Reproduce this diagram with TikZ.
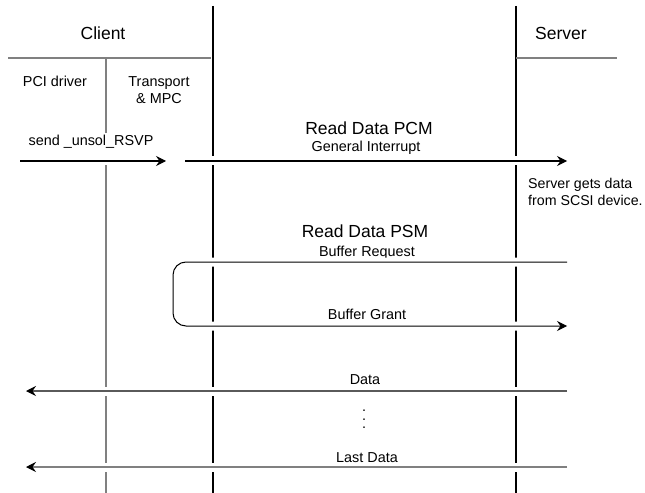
\documentclass[tikz,border=0pt]{standalone}
\usepackage{fontspec}
\setmainfont{Liberation Sans}
\usetikzlibrary{arrows.meta}
\definecolor{lgrey}{HTML}{808080}
\definecolor{dgrey}{HTML}{5A5A5A}
\begin{document}
\begin{tikzpicture}[x=1bp,y=-1bp,
  big/.style={font=\fontsize{17.5bp}{21bp}\selectfont, inner sep=0pt, anchor=base},
  small/.style={font=\fontsize{14.4bp}{17bp}\selectfont, inner sep=0pt, anchor=base},
  note/.style={font=\fontsize{14.2bp}{17bp}\selectfont, inner sep=0pt, anchor=base west, align=left},
  life/.style={line width=2bp, black},
  sub/.style={line width=1.3bp, lgrey},
  tip/.style={-{Stealth[length=10bp,width=10bp,inset=3.5bp,color=black,fill=black]}},
  halo/.style={preaction={draw=white,line width=9bp,-}},
  msg/.style={line width=1.1bp, tip, halo},
]
\useasboundingbox (0,0) rectangle (645,493);
% lifeline coordinates
\coordinate (cTop) at (213,6);   \coordinate (cBot) at (213,493);
\coordinate (sTop) at (516,6);   \coordinate (sBot) at (516,493);
\coordinate (pTop) at (106,58);  \coordinate (pBot) at (106,493);
\coordinate (chL) at (8,58);     \coordinate (chR) at (211,58);
\coordinate (shL) at (516,58);   \coordinate (shR) at (617,58);
% lifelines
\draw[life] (cTop) -- (cBot);
\draw[life] (sTop) -- (sBot);
\draw[sub] (pTop) -- (pBot);
\draw[sub] (chL) -- (chR);
\draw[sub] (shL) -- (shR);
% headers
\node[big] (client) at (103,40) {Client};
\node[big] (server) at (561,40) {Server};
\node[small] (pci) at (55,87) {PCI driver};
\node[small, align=center] (trans) at (159,104) {Transport\\\& MPC};
% send_unsol_RSVP
\node[small, fill=white, inner xsep=2bp, inner ysep=3bp, text depth=11bp] (rsvp) at (91,146) {send \_unsol\_RSVP};
\coordinate (a1s) at (20,161);  \coordinate (a1e) at (166,161);
\draw[msg] (a1s) -- (a1e);
% Read Data PCM
\node[big] (pcm) at (369,135) {Read Data PCM};
\node[small] (gi) at (366,152) {General Interrupt};
\coordinate (a2s) at (185,161);  \coordinate (a2e) at (567,161);
\draw[msg] (a2s) -- (a2e);
\node[note] (sg) at (528,206) {Server gets data\\from SCSI device.};
% Read Data PSM
\node[big] (psm) at (365,238) {Read Data PSM};
\node[small] (breq) at (367,257) {Buffer Request};
\node[small] (bgr) at (367,319) {Buffer Grant};
\coordinate (bA) at (567,262); \coordinate (bB) at (173,262);
\coordinate (bC) at (173,326); \coordinate (bD) at (567,326);
\draw[msg, line width=1bp, rounded corners=13bp] (bA) -- (bB) -- (bC) -- (bD);
% Data
\node[small] (data) at (365,384) {Data};
\coordinate (dS) at (567,391); \coordinate (dE) at (26,391);
\draw[msg, draw=dgrey] (dS) -- (dE);
\node[small, align=center, font=\fontsize{14.4bp}{8.3bp}\selectfont] (dots) at (364,428.5) {.\\.\\.};
\node[small] (ldata) at (367,462) {Last Data};
\coordinate (lS) at (567,467); \coordinate (lE) at (26,467);
\draw[msg, draw=lgrey] (lS) -- (lE);
\end{tikzpicture}
\end{document}
